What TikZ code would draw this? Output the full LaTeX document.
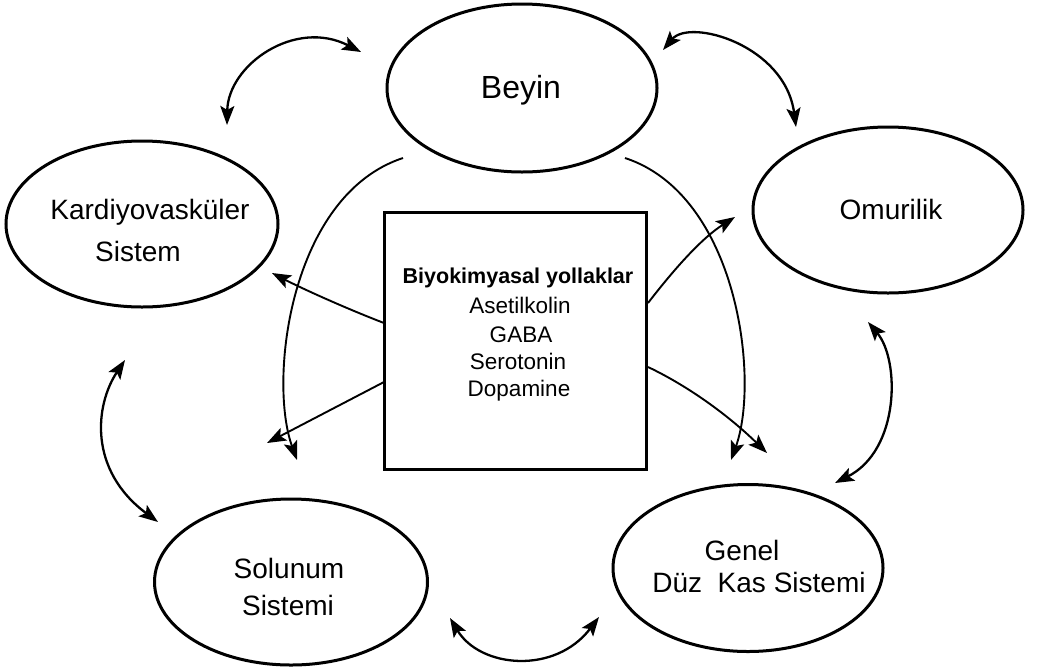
\documentclass[tikz,border=0pt]{standalone}
\usepackage{fontspec}
\setmainfont{Liberation Sans}
\usetikzlibrary{arrows.meta,shapes.geometric}
\tikzset{
  tipp/.tip={Stealth[length=19pt,width=14pt,inset=4pt]},
  organ/.style={ellipse,draw,line width=3pt,inner sep=0pt},
  lblbig/.style={anchor=base,inner sep=0pt,font=\fontsize{32}{38}\selectfont},
  lbl/.style={anchor=base,inner sep=0pt,font=\fontsize{28}{34}\selectfont},
  lblbox/.style={anchor=base,inner sep=0pt,font=\fontsize{22.5}{27}\selectfont},
  dbl/.style={line width=2.3pt,tipp-tipp},
  one/.style={line width=1.9pt,-tipp},
}
\begin{document}
\begin{tikzpicture}[x=1pt,y=-1pt]
\useasboundingbox (0,0) rectangle (1040,667);
\fill[white] (0,0) rectangle (1040,667);
% ellipses
\node[organ,minimum width=270pt,minimum height=168pt] (beyin) at (522,88) {};
\node[organ,minimum width=272pt,minimum height=166pt] (kardio) at (142,224) {};
\node[organ,minimum width=270pt,minimum height=166pt] (omur) at (888,210) {};
\node[organ,minimum width=273pt,minimum height=166pt] (solunum) at (291,582) {};
\node[organ,minimum width=270pt,minimum height=167pt] (genel) at (748,568) {};
% box
\node[draw,line width=3pt,minimum width=262pt,minimum height=257pt,inner sep=0pt] (box) at (515,340.5) {};
% texts
\node[lblbig] (tbeyin) at (521,98) {Beyin};
\node[lbl] (tkard1) at (150,219) {Kardiyovasküler};
\node[lbl] (tkard2) at (138,261) {Sistem};
\node[lbl] (tomur) at (891,219) {Omurilik};
\node[lbl] (tsol1) at (289,578) {Solunum};
\node[lbl] (tsol2) at (288,615) {Sistemi};
\node[lbl] (tgen1) at (742,560) {Genel};
\node[lbl] (tgen2) at (759,592) {Düz\ \ Kas Sistemi};
\node[lblbox,font=\fontsize{21.5}{26}\selectfont\bfseries] (tbio) at (518,283) {Biyokimyasal yollaklar};
\node[lblbox] (tace) at (520,313) {Asetilkolin};
\node[lblbox] (tgaba) at (521,342) {GABA};
\node[lblbox] (tsero) at (518,369) {Serotonin};
\node[lblbox] (tdopa) at (519,396) {Dopamine};
% arrow end points
\coordinate (a1s) at (227,125); \coordinate (a1e) at (361,52);
\coordinate (a2s) at (663,50);  \coordinate (a2e) at (796,127);
\coordinate (a3s) at (125,360); \coordinate (a3e) at (158,522);
\coordinate (a4s) at (868,322); \coordinate (a4e) at (835,483);
\coordinate (a5s) at (450,618); \coordinate (a5e) at (599,617);
\coordinate (b1s) at (384,323); \coordinate (b1e) at (272,273);
\coordinate (b2s) at (384,382); \coordinate (b2e) at (267,443);
\coordinate (b3s) at (403,158); \coordinate (b3e) at (297,460);
\coordinate (b4s) at (625,158); \coordinate (b4e) at (731,460);
\coordinate (b5s) at (648,303); \coordinate (b5e) at (735,217);
\coordinate (b6s) at (648,367); \coordinate (b6e) at (767,453);
% double arrows between organs
\draw[dbl] (a1s) .. controls (228,65) and (295,18) .. (a1e);
\draw[dbl] (a2s) .. controls (690,18) and (785,45) .. (a2e);
\draw[dbl] (a3s) .. controls (95,405) and (88,470) .. (a3e);
\draw[dbl] (a4s) .. controls (900,360) and (900,450) .. (a4e);
\draw[dbl] (a5s) .. controls (480,668) and (555,675) .. (a5e);
% arrows from the box and Beyin
\draw[one] (b1s) .. controls (350,310) and (305,290) .. (b1e);
\draw[one] (b2s) -- (b2e);
\draw[one] (b3s) .. controls (290,195) and (268,380) .. (b3e);
\draw[one] (b4s) .. controls (738,195) and (760,380) .. (b4e);
\draw[one] (b5s) .. controls (675,268) and (702,238) .. (b5e);
\draw[one] (b6s) .. controls (688,386) and (728,415) .. (b6e);
\end{tikzpicture}
\end{document}
